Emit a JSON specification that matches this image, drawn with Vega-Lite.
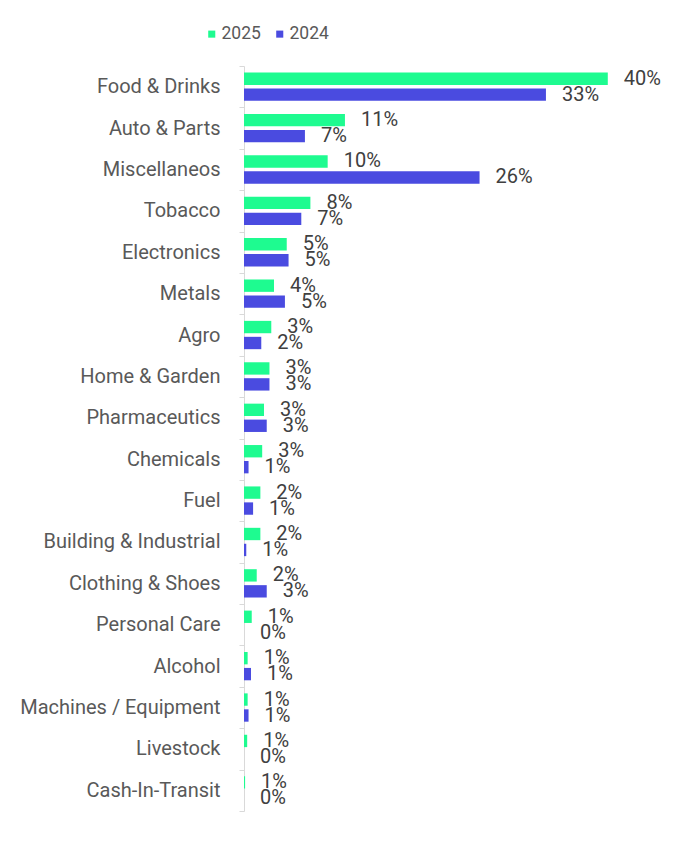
{
  "$schema": "https://vega.github.io/schema/vega-lite/v6.json",
  "width": 432,
  "height": 745,
  "autosize": {"type": "none"},
  "padding": {"left": 244, "top": 66, "right": 0, "bottom": 31},
  "background": "white",
  "config": {"view": {"stroke": null}, "font": "Roboto"},
  "data": {"values": [
    {"category": "Food & Drinks", "year": "2025", "value": 40.0, "label": "40%"},
    {"category": "Food & Drinks", "year": "2024", "value": 33.2, "label": "33%"},
    {"category": "Auto & Parts", "year": "2025", "value": 11.1, "label": "11%"},
    {"category": "Auto & Parts", "year": "2024", "value": 6.7, "label": "7%"},
    {"category": "Miscellaneos", "year": "2025", "value": 9.2, "label": "10%"},
    {"category": "Miscellaneos", "year": "2024", "value": 25.9, "label": "26%"},
    {"category": "Tobacco", "year": "2025", "value": 7.3, "label": "8%"},
    {"category": "Tobacco", "year": "2024", "value": 6.3, "label": "7%"},
    {"category": "Electronics", "year": "2025", "value": 4.7, "label": "5%"},
    {"category": "Electronics", "year": "2024", "value": 4.9, "label": "5%"},
    {"category": "Metals", "year": "2025", "value": 3.3, "label": "4%"},
    {"category": "Metals", "year": "2024", "value": 4.5, "label": "5%"},
    {"category": "Agro", "year": "2025", "value": 3.0, "label": "3%"},
    {"category": "Agro", "year": "2024", "value": 1.9, "label": "2%"},
    {"category": "Home & Garden", "year": "2025", "value": 2.8, "label": "3%"},
    {"category": "Home & Garden", "year": "2024", "value": 2.8, "label": "3%"},
    {"category": "Pharmaceutics", "year": "2025", "value": 2.2, "label": "3%"},
    {"category": "Pharmaceutics", "year": "2024", "value": 2.5, "label": "3%"},
    {"category": "Chemicals", "year": "2025", "value": 2.0, "label": "3%"},
    {"category": "Chemicals", "year": "2024", "value": 0.5, "label": "1%"},
    {"category": "Fuel", "year": "2025", "value": 1.8, "label": "2%"},
    {"category": "Fuel", "year": "2024", "value": 1.0, "label": "1%"},
    {"category": "Building & Industrial", "year": "2025", "value": 1.8, "label": "2%"},
    {"category": "Building & Industrial", "year": "2024", "value": 0.25, "label": "1%"},
    {"category": "Clothing & Shoes", "year": "2025", "value": 1.4, "label": "2%"},
    {"category": "Clothing & Shoes", "year": "2024", "value": 2.5, "label": "3%"},
    {"category": "Personal Care", "year": "2025", "value": 0.85, "label": "1%"},
    {"category": "Personal Care", "year": "2024", "value": 0.0, "label": "0%"},
    {"category": "Alcohol", "year": "2025", "value": 0.4, "label": "1%"},
    {"category": "Alcohol", "year": "2024", "value": 0.77, "label": "1%"},
    {"category": "Machines / Equipment", "year": "2025", "value": 0.4, "label": "1%"},
    {"category": "Machines / Equipment", "year": "2024", "value": 0.5, "label": "1%"},
    {"category": "Livestock", "year": "2025", "value": 0.35, "label": "1%"},
    {"category": "Livestock", "year": "2024", "value": 0.0, "label": "0%"},
    {"category": "Cash-In-Transit", "year": "2025", "value": 0.12, "label": "1%"},
    {"category": "Cash-In-Transit", "year": "2024", "value": 0.0, "label": "0%"}
  ]},
  "encoding": {
    "y": {
      "field": "category", "type": "nominal", "sort": null,
      "scale": {"paddingInner": 0, "paddingOuter": 0},
      "axis": {
        "title": null, "tickBand": "extent", "tickSize": 5, "tickColor": "#d9d9d9",
        "domainColor": "#d9d9d9", "labelFont": "Roboto", "labelFontSize": 20,
        "labelColor": "#595959", "labelPadding": 19, "labelLimit": 400
      }
    },
    "yOffset": {
      "field": "year", "type": "nominal",
      "scale": {"domain": ["2025", "2024"], "paddingInner": 0.225, "paddingOuter": 0.41}
    },
    "x": {
      "field": "value", "type": "quantitative",
      "scale": {"domain": [0, 47.5], "nice": false, "zero": true},
      "axis": null
    }
  },
  "layer": [
    {
      "mark": {"type": "bar"},
      "encoding": {
        "color": {
          "field": "year", "type": "nominal",
          "scale": {"domain": ["2025", "2024"], "range": ["#1EFB90", "#4A4BE0"]},
          "legend": {
            "title": null, "orient": "none", "direction": "horizontal",
            "legendX": -41, "legendY": -41,
            "symbolType": "square", "symbolSize": 50, "symbolStrokeWidth": 0,
            "labelFont": "Roboto", "labelFontSize": 17.5, "labelColor": "#595959",
            "labelOffset": 1, "columnPadding": 10
          }
        }
      }
    },
    {
      "mark": {"type": "text", "align": "left", "baseline": "middle", "dx": 16, "font": "Roboto", "fontSize": 20, "color": "#404040"},
      "encoding": {"text": {"field": "label"}}
    }
  ]
}
